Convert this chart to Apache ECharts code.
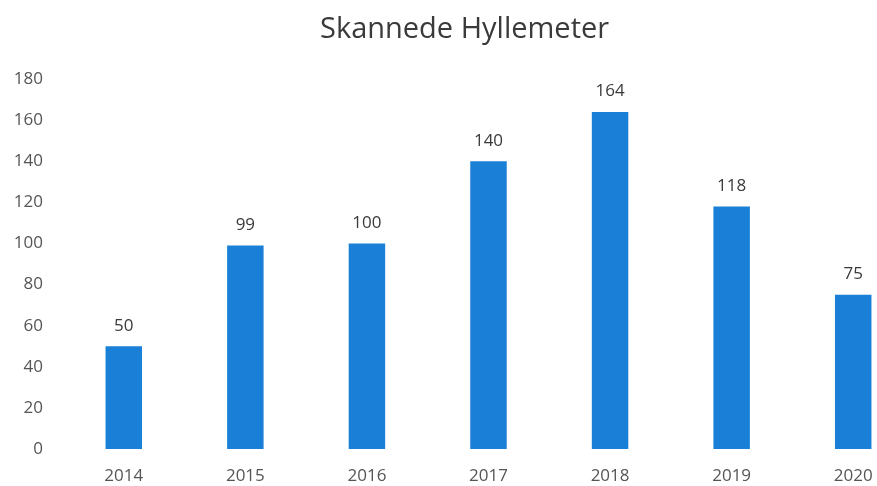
<!DOCTYPE html>
<html><head><meta charset="utf-8">
<script src="https://cdn.jsdelivr.net/npm/echarts@6/dist/echarts.min.js"></script>
<style>html,body{margin:0;padding:0;background:#fff;overflow:hidden;width:877px;height:486px}#c{width:930px;height:486px}</style>
</head><body><div id="c"></div>
<script>
const categories = ['2014','2015','2016','2017','2018','2019','2020'];
const values = [50, 99, 100, 140, 164, 118, 75];
const yTicks = [0, 20, 40, 60, 80, 100, 120, 140, 160, 180];
const titleText = 'Skannede Hyllemeter';

const chart = echarts.init(document.getElementById('c'));
chart.setOption({
  animation: false,
  backgroundColor: '#ffffff',
  title: {
    text: titleText, left: 315, top: 10,
    textStyle: {fontFamily: 'Open Sans', fontWeight: 'normal', fontSize: 29, color: '#3a3a3a'}
  },
  grid: {left: 63, right: 16, top: 79, bottom: 37},
  xAxis: {
    type: 'category', data: categories,
    axisLine: {show: false}, axisTick: {show: false},
    axisLabel: {color: '#555', fontFamily: 'Open Sans', fontSize: 17, margin: 19}
  },
  yAxis: {
    type: 'value', min: yTicks[0], max: yTicks[yTicks.length-1], interval: 20,
    splitLine: {show: false}, axisLine: {show: false}, axisTick: {show: false},
    axisLabel: {color: '#555', fontFamily: 'Open Sans', fontSize: 17, margin: 20}
  },
  series: [{
    type: 'bar', data: values, barWidth: '30%',
    itemStyle: {color: '#1a7fd6'},
    label: {show: true, position: 'top', distance: 12, color: '#3a3a3a', fontFamily: 'Open Sans', fontSize: 17}
  }]
});
</script></body></html>
